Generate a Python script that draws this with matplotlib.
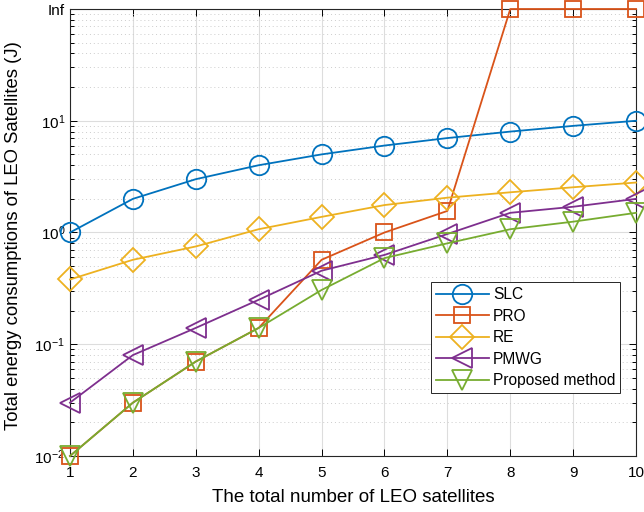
import numpy as np
import matplotlib
matplotlib.use("Agg")
import matplotlib.pyplot as plt
from matplotlib.ticker import FixedLocator, LogLocator, NullFormatter

plt.rcParams['font.family'] = ['Liberation Sans', 'DejaVu Sans']
plt.rcParams['mathtext.fontset'] = 'custom'
plt.rcParams['mathtext.rm'] = 'Liberation Sans'

n_sat = [1, 2, 3, 4, 5, 6, 7, 8, 9, 10]
slc = [1, 2, 3, 4, 5, 6, 7, 8, 9, 10]
pro = [0.01, 0.03, 0.07, 0.14, 0.57, 1.0, 1.56, np.inf, np.inf, np.inf]
re = [0.38, 0.57, 0.75, 1.07, 1.38, 1.76, 2.05, 2.29, 2.54, 2.8]
pmwg = [0.03, 0.08, 0.14, 0.25, 0.455, 0.63, 0.97, 1.5, 1.7, 2.0]
proposed = [0.01, 0.03, 0.07, 0.14, 0.306, 0.59, 0.8, 1.07, 1.25, 1.5]

ytick_vals = [1e-2, 1e-1, 1e0, 1e1, 1e2]
ytick_labels = [r'$\mathregular{10^{-2}}$', r'$\mathregular{10^{-1}}$',
                r'$\mathregular{10^{0}}$', r'$\mathregular{10^{1}}$', 'Inf']

series = [
    ("SLC", slc, "#0072BD", "o"),
    ("PRO", pro, "#D95319", "s"),
    ("RE", re, "#EDB120", "D"),
    ("PMWG", pmwg, "#7E2F8E", "<"),
    ("Proposed method", proposed, "#77AC30", "v"),
]
msize = {"o": 14, "s": 11, "D": 12, "<": 14, "v": 14}

fig = plt.figure(figsize=(6.44, 5.12), dpi=100)
ax = fig.add_axes([0.1087, 0.1094, 0.879, 0.873])

top = ytick_vals[-1]
for name, vals, col, mk in series:
    y = [top if np.isinf(v) else v for v in vals]
    ax.plot(n_sat, y, color=col, marker=mk, markersize=msize[mk],
            markerfacecolor='none', markeredgewidth=1.3, linewidth=1.3,
            label=name, clip_on=False, zorder=3)

ax.set_yscale('log')
ax.set_xlim(1, 10)
ax.set_ylim(1e-2, 1e2)
ax.set_xticks(n_sat)
ax.yaxis.set_major_locator(FixedLocator(ytick_vals))
ax.set_yticklabels(ytick_labels)
ax.yaxis.set_minor_locator(LogLocator(base=10, subs=np.arange(2, 10)))
ax.yaxis.set_minor_formatter(NullFormatter())

ax.tick_params(axis='both', which='both', direction='in', top=True, right=True,
               labelsize=11, width=0.7)
ax.tick_params(which='major', length=5)
ax.tick_params(which='minor', length=3)
ax.tick_params(axis='x', pad=7)

ax.grid(True, which='major', color='#dddddd', linewidth=0.8, linestyle='-')
ax.grid(True, which='minor', axis='y', color='#cccccc', linewidth=0.7, linestyle=(0, (1, 3)))
ax.set_axisbelow(True)
for sp in ax.spines.values():
    sp.set_linewidth(0.8)
    sp.set_color('#262626')

ax.set_xlabel("The total number of LEO satellites", fontsize=13.5, labelpad=7)
ax.set_ylabel("Total energy consumptions of LEO Satellites (J)", fontsize=13.3)
ax.yaxis.set_label_coords(-0.085, 0.494)

leg = ax.legend(loc='lower right', bbox_to_anchor=(0.972, 0.141), fontsize=11.2,
                fancybox=False, framealpha=1, edgecolor='#262626', handlelength=3.4,
                borderpad=0.3, labelspacing=0.42, handletextpad=0.3, borderaxespad=0)
leg.get_frame().set_linewidth(0.7)

fig.savefig("out.png", dpi=100)
